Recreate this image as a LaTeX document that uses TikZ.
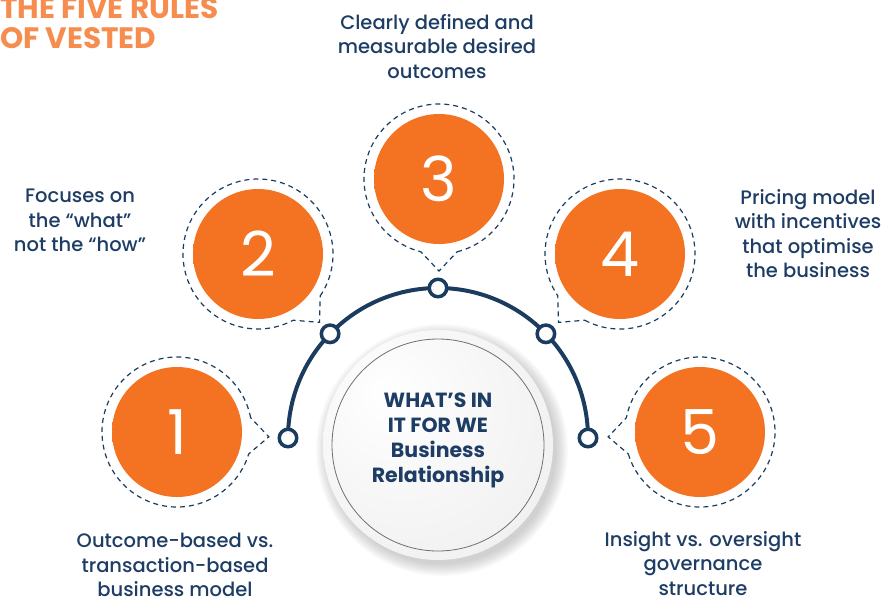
\documentclass[tikz,border=0pt]{standalone}
\usepackage{fontspec}
\setmainfont{Poppins}[UprightFont={* Medium}, BoldFont={* Bold}]
\newfontfamily\numfont{Poppins}
\usetikzlibrary{backgrounds,calc}
\definecolor{navy}{HTML}{1B3C5E}
\definecolor{navytext}{HTML}{1E3D64}
\definecolor{orangeA}{HTML}{F37322}
\definecolor{orangeB}{HTML}{D45A1C}
\definecolor{titleorange}{HTML}{F68C4E}
\definecolor{ringgray}{HTML}{707070}
\pgfdeclareradialshading{orangeball}{\pgfpoint{0bp}{0bp}}{color(0bp)=(orangeA); color(38bp)=(orangeA); color(50bp)=(orangeB)}
\pgfdeclareradialshading{pearl}{\pgfpoint{-12bp}{12bp}}{color(0bp)=(white); color(60bp)=(black!10)}
\tikzset{
  ball/.style={circle, shading=orangeball, minimum size=130pt, inner sep=0pt,
    text=white, font=\numfont\fontsize{62}{62}\selectfont},
  dot/.style={circle, draw=navy, line width=3.5pt, fill=white, minimum size=17.5pt, inner sep=0pt},
  rule/.style={anchor=north, align=center, text=navytext, inner sep=0pt,
    font=\fontsize{19.5}{24.4}\selectfont},
  halo/.style={draw=navy, line width=1.2pt, dash pattern=on 5pt off 4pt},
}
\begin{document}
\begin{tikzpicture}[x=1pt,y=1pt]
\useasboundingbox (0,0) rectangle (888,-603);
% title
\node[anchor=north west, align=left, inner sep=0pt, text=titleorange,
  font=\bfseries\fontsize{29.5}{30}\selectfont] (title) at (0,3) {THE FIVE RULES\\OF VESTED};
% hub in the middle
\foreach \k in {1,...,10}
  \fill[black, opacity=0.02] (442,-450) circle (113+\k*1.3);
\node[circle, minimum size=230pt, inner sep=0pt, shading=pearl] (hub) at (438,-445) {};
\draw[ringgray, line width=0.8pt] (hub.center) circle (106);
\node[align=center, text=navytext, font=\bfseries\fontsize{20.5}{25}\selectfont] (hubtext)
  at (438,-440) {WHAT’S IN\\IT FOR WE\\Business\\Relationship};
% the five rules
\foreach \i/\cx/\cy/\a in {1/177/432/-3, 2/258/254/-48, 3/439/179/-90, 4/620/254/-132, 5/700/432/-177}{
  \node[ball] (ball\i) at (\cx,-\cy) {\i};
  \draw[halo] ($(ball\i.center)+(\a+14:75)$) arc[start angle=\a+14, end angle=\a+346, radius=75]
    -- ($(ball\i.center)+(\a:92)$) -- cycle;
}
% dots on the arc
\foreach \i/\ang in {1/180, 2/136, 3/90, 4/44, 5/0}
  \node[dot] (dot\i) at ($(438,-438)+(\ang:150)$) {};
\begin{scope}[on background layer]
  \draw[navy, line width=4pt] (dot1.center) arc[start angle=180, end angle=0, radius=150];
\end{scope}
% labels
\node[rule] (txt3) at (437,-14) {Clearly defined and\\measurable desired\\outcomes};
\node[rule] (txt2) at (80,-189) {Focuses on\\the “what”\\not the “how”};
\node[rule] (txt4) at (808,-189) {Pricing model\\with incentives\\that optimise\\the business};
\node[rule] (txt1) at (175,-533) {Outcome-based vs.\\transaction-based\\business model};
\node[rule] (txt5) at (703,-531) {Insight vs. oversight\\governance\\structure};
\end{tikzpicture}
\end{document}
